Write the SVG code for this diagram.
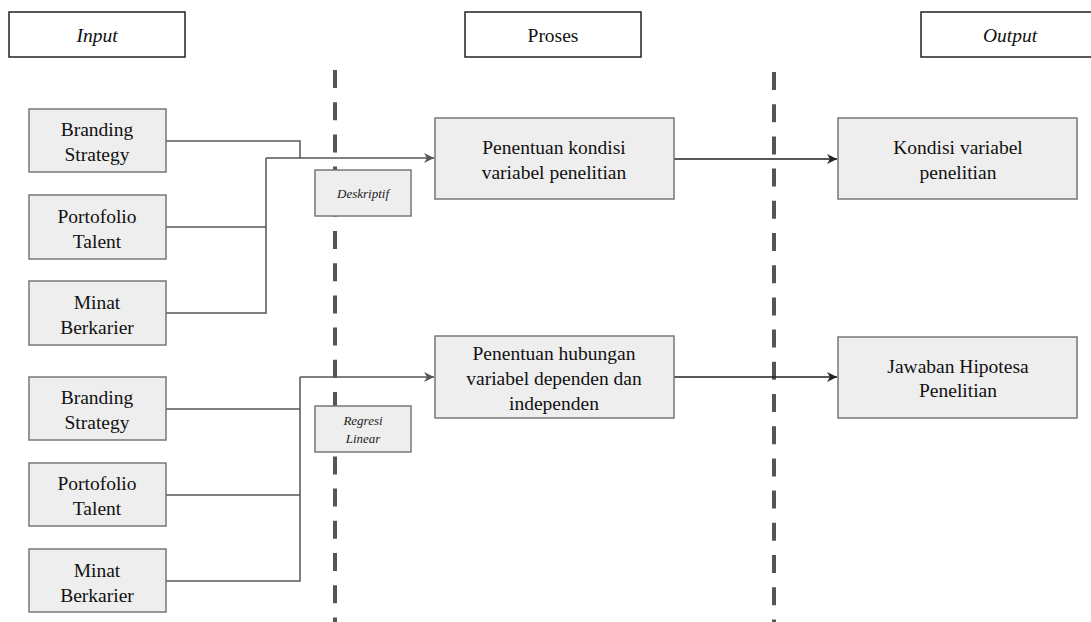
<svg xmlns="http://www.w3.org/2000/svg" width="1091" height="622" viewBox="0 0 1091 622">
<defs>
<style>
.hdr{fill:#fff;stroke:#222;stroke-width:1.5}
.nd{fill:#eeeeee;stroke:#777;stroke-width:1.5}
.t{font-family:"Liberation Serif","Times New Roman",serif;font-size:19.5px;fill:#111;text-anchor:middle}
.it{font-style:italic}
.sm{font-family:"Liberation Serif","Times New Roman",serif;font-size:13px;font-style:italic;fill:#222;text-anchor:middle}
.dash{stroke:#555;stroke-width:4;stroke-dasharray:18 14.2;fill:none}
.ln{stroke:#555;stroke-width:1.5;fill:none}
.ln2{stroke:#222;stroke-width:1.5;fill:none}
</style>
<marker id="ag" viewBox="0 0 10 10" refX="10" refY="5" markerWidth="10" markerHeight="10" markerUnits="userSpaceOnUse" orient="auto">
<path d="M0,0 L10,5 L0,10 L3,5 Z" fill="#555"/>
</marker>
<marker id="ab" viewBox="0 0 10 10" refX="10" refY="5" markerWidth="10" markerHeight="10" markerUnits="userSpaceOnUse" orient="auto">
<path d="M0,0 L10,5 L0,10 L3,5 Z" fill="#222"/>
</marker>
</defs>
<rect width="1091" height="622" fill="#fff"/>
<g id="dividers">
<line class="dash" x1="335" y1="70" x2="335" y2="622"/>
<line class="dash" x1="774" y1="72" x2="774" y2="622"/>
</g>
<g id="connectors">
<polyline class="ln" points="166,141 300,141 300,158"/>
<polyline class="ln" points="166,227 266,227"/>
<polyline class="ln" points="166,313 266,313 266,158"/>
<line class="ln" x1="266" y1="158" x2="434" y2="158" marker-end="url(#ag)"/>
<line class="ln2" x1="674" y1="159" x2="837" y2="159" marker-end="url(#ab)"/>
<polyline class="ln" points="166,409 300,409"/>
<polyline class="ln" points="166,495 300,495"/>
<polyline class="ln" points="166,581 300,581 300,377"/>
<line class="ln" x1="300" y1="377" x2="434" y2="377" marker-end="url(#ag)"/>
<line class="ln2" x1="674" y1="377" x2="837" y2="377" marker-end="url(#ab)"/>
</g>
<g id="hdr-input"><rect class="hdr" x="9" y="12" width="176" height="45"/><text class="t it" x="97" y="42">Input</text></g>
<g id="hdr-proses"><rect class="hdr" x="465" y="12" width="176" height="45"/><text class="t" x="553" y="42">Proses</text></g>
<g id="hdr-output"><rect class="hdr" x="921" y="12" width="176" height="45"/><text class="t it" x="1010" y="42">Output</text></g>
<g id="in1"><rect class="nd" x="29" y="109" width="137" height="63"/><text class="t" x="97" y="136">Branding</text><text class="t" x="97" y="161">Strategy</text></g>
<g id="in2"><rect class="nd" x="29" y="195" width="137" height="64"/><text class="t" x="97" y="223">Portofolio</text><text class="t" x="97" y="248">Talent</text></g>
<g id="in3"><rect class="nd" x="29" y="281" width="137" height="64"/><text class="t" x="97" y="309">Minat</text><text class="t" x="97" y="334">Berkarier</text></g>
<g id="in4"><rect class="nd" x="29" y="377" width="137" height="63"/><text class="t" x="97" y="404">Branding</text><text class="t" x="97" y="429">Strategy</text></g>
<g id="in5"><rect class="nd" x="29" y="463" width="137" height="63"/><text class="t" x="97" y="490">Portofolio</text><text class="t" x="97" y="515">Talent</text></g>
<g id="in6"><rect class="nd" x="29" y="549" width="137" height="63"/><text class="t" x="97" y="577">Minat</text><text class="t" x="97" y="602">Berkarier</text></g>
<g id="lbl-deskriptif"><rect class="nd" x="315" y="170" width="96" height="46"/><text class="sm" x="363" y="198">Deskriptif</text></g>
<g id="lbl-regresi"><rect class="nd" x="315" y="406" width="96" height="46"/><text class="sm" x="363" y="425">Regresi</text><text class="sm" x="363" y="443">Linear</text></g>
<g id="proc1"><rect class="nd" x="435" y="118" width="239" height="81"/><text class="t" x="554" y="154">Penentuan kondisi</text><text class="t" x="554" y="179">variabel penelitian</text></g>
<g id="proc2"><rect class="nd" x="435" y="336" width="239" height="82"/><text class="t" x="554" y="360">Penentuan hubungan</text><text class="t" x="554" y="385">variabel dependen dan</text><text class="t" x="554" y="410">independen</text></g>
<g id="out1"><rect class="nd" x="838" y="118" width="239" height="81"/><text class="t" x="958" y="154">Kondisi variabel</text><text class="t" x="958" y="179">penelitian</text></g>
<g id="out2"><rect class="nd" x="838" y="337" width="239" height="81"/><text class="t" x="958" y="373">Jawaban Hipotesa</text><text class="t" x="958" y="397">Penelitian</text></g>
</svg>
